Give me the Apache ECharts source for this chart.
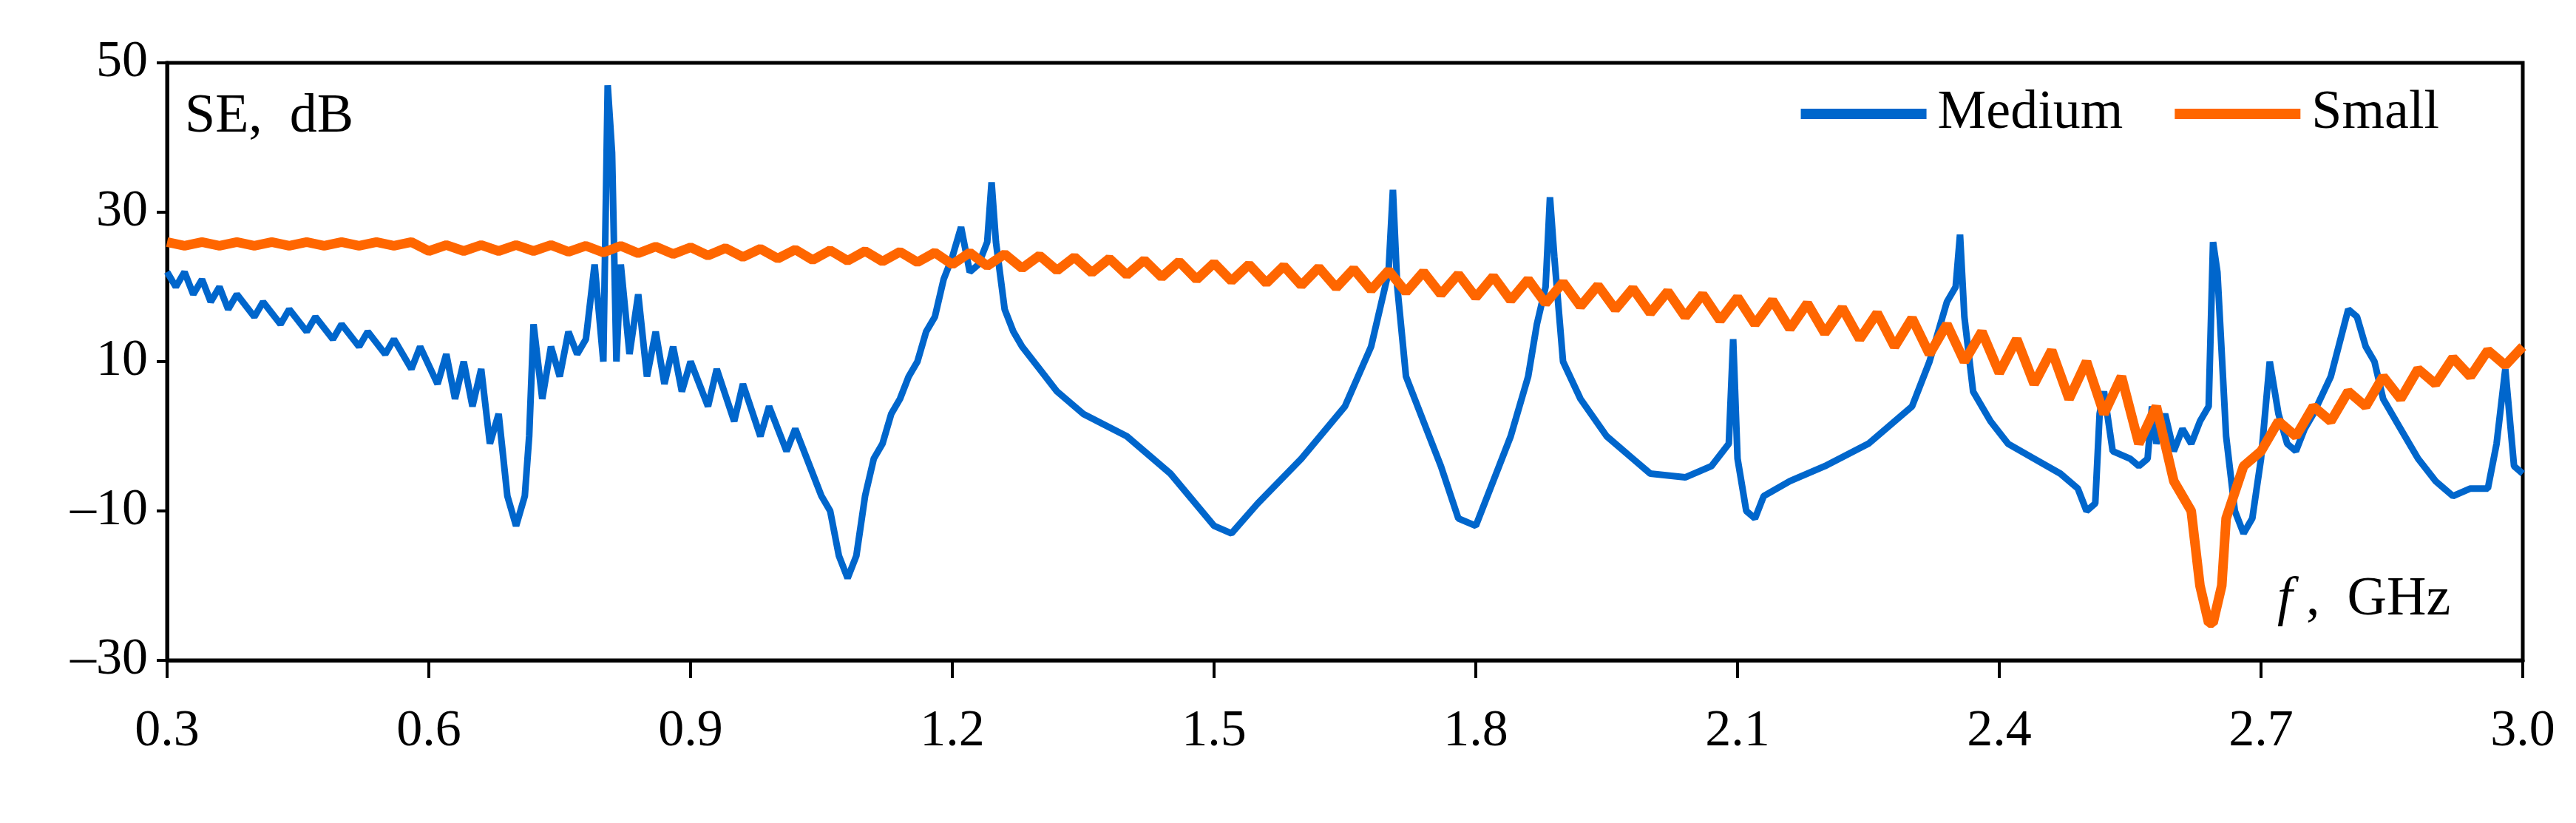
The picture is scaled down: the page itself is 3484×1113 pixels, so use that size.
<!DOCTYPE html>
<html>
<head>
<meta charset="utf-8">
<script src="https://cdn.jsdelivr.net/npm/echarts@6/dist/echarts.min.js"></script>
<style>html,body{margin:0;padding:0;background:#fff}#main{width:3484px;height:1113px}</style>
</head>
<body>
<div id="main"></div>
<script>
// y tick labels
var yTicks = [-30, -10, 10, 30, 50];
var xTicks = [0.3, 0.6, 0.9, 1.2, 1.5, 1.8, 2.1, 2.4, 2.7, 3.0];

// Medium: [f GHz, SE dB]
var medium = [
 [0.30,22],[0.31,20],[0.32,22],[0.33,19],[0.34,21],[0.35,18],[0.36,20],[0.37,17],[0.38,19],[0.40,16],
 [0.41,18],[0.43,15],[0.44,17],[0.46,14],[0.47,16],[0.49,13],[0.50,15],[0.52,12],[0.53,14],[0.55,11],
 [0.56,13],[0.58,9],[0.59,12],[0.61,7],[0.62,11],[0.63,5],[0.64,10],[0.65,4],[0.66,9],[0.67,-1],
 [0.68,3],[0.69,-8],[0.70,-12],[0.71,-8],[0.715,0],[0.72,15],[0.73,5],[0.74,12],[0.75,8],[0.76,14],
 [0.77,11],[0.78,13],[0.79,23],[0.80,10],[0.805,47],[0.81,38],[0.815,10],[0.82,23],[0.83,11],[0.84,19],
 [0.85,8],[0.86,14],[0.87,7],[0.88,12],[0.89,6],[0.90,10],[0.92,4],[0.93,9],[0.95,2],[0.96,7],
 [0.98,0],[0.99,4],[1.01,-2],[1.02,1],[1.04,-5],[1.05,-8],[1.06,-10],[1.07,-16],[1.08,-19],[1.09,-16],
 [1.10,-8],[1.11,-3],[1.12,-1],[1.13,3],[1.14,5],[1.15,8],[1.16,10],[1.17,14],[1.18,16],[1.19,21],
 [1.20,24],[1.21,28],[1.22,22],[1.23,23],[1.24,26],[1.245,34],[1.25,26],[1.26,17],[1.27,14],[1.28,12],
 [1.30,9],[1.32,6],[1.35,3],[1.40,0],[1.45,-5],[1.50,-12],[1.52,-13],[1.55,-9],[1.60,-3],[1.65,4],
 [1.68,12],[1.70,22],[1.705,33],[1.71,20],[1.72,8],[1.74,2],[1.76,-4],[1.78,-11],[1.80,-12],[1.82,-6],
 [1.84,0],[1.86,8],[1.87,15],[1.88,20],[1.885,32],[1.89,24],[1.90,10],[1.92,5],[1.95,0],[1.98,-3],
 [2.00,-5],[2.04,-5.5],[2.07,-4],[2.09,-1],[2.095,13],[2.10,-3],[2.11,-10],[2.12,-11],[2.13,-8],[2.16,-6],
 [2.20,-4],[2.25,-1],[2.30,4],[2.32,10],[2.34,18],[2.35,20],[2.355,27],[2.36,16],[2.37,6],[2.39,2],
 [2.41,-1],[2.44,-3],[2.47,-5],[2.49,-7],[2.50,-10],[2.51,-9],[2.515,3],[2.52,6],[2.53,-2],[2.55,-3],
 [2.56,-4],[2.57,-3],[2.575,4],[2.58,-1],[2.59,3],[2.60,-2],[2.61,1],[2.62,-1],[2.63,2],[2.64,4],
 [2.645,26],[2.65,22],[2.66,0],[2.67,-10],[2.68,-13],[2.69,-11],[2.70,-3],[2.71,10],[2.72,3],[2.73,-1],
 [2.74,-2],[2.75,1],[2.76,3],[2.78,8],[2.80,17],[2.81,16],[2.82,12],[2.83,10],[2.84,5],[2.86,1],
 [2.88,-3],[2.90,-6],[2.92,-8],[2.94,-7],[2.96,-7],[2.97,-1],[2.98,9],[2.99,-4],[3.00,-5]
];

// Small: SE values every 0.02 GHz from 0.30 (ripple high/low)
var smallF0 = 0.30, smallStep = 0.02;
var smallSE = [
 26,25.5,26,25.5,26,25.5,26,25.5,26,25.5,26,25.5,26,25.5,26,
 24.8,25.6,24.8,25.6,24.8,25.6,24.8,25.6,24.7,25.5,24.6,25.5,24.5,25.4,24.4,
 25.3,24.2,25.2,24,25.1,23.8,25,23.6,24.9,23.5,24.8,23.4,24.7,23.3,24.6,
 23,24.6,22.8,24.4,22.5,24.2,22.2,24,21.9,23.8,21.6,23.6,21.3,23.4,21,
 23.2,20.8,23,20.5,22.8,20.2,22.6,19.9,22.4,19.6,22.2,19.3,22,19,21.7,
 18.6,21.4,18.2,21,17.8,20.6,17.4,20.2,17,19.8,16.5,19.4,16,19,15.5,
 18.6,15,18.2,14.4,17.8,13.8,17.2,13,16.5,12,15.8,11,15,10,14,
 8.5,13,7,11.5,5,10,3,8,-1,4,-6,-10,-25,-11,-4,
 -2,2,0,4,2,6,4,8,5,9,7,10.5,8,11.5,9.5,12
];
// deep notch detail near 2.64 GHz
var smallNotch = [[2.63,-20],[2.645,-25],[2.655,-20]];

var small = smallSE.map(function (v, i) { return [+(smallF0 + i * smallStep).toFixed(2), v]; });
small = small.concat(smallNotch).sort(function (a, b) { return a[0] - b[0]; });

var font = 'Liberation Serif';
var myChart = echarts.init(document.getElementById('main'));
var option = {
  animation: false,
  grid: { left: 226, right: 72, top: 85, bottom: 220, show: true, borderColor: '#000', borderWidth: 5 },
  legend: {
    right: 180, top: 112, itemGap: 70, itemWidth: 170, itemHeight: 14,
    textStyle: { fontFamily: font, fontSize: 74, color: '#000', padding: [0, 0, 0, 10] },
    data: [{ name: 'Medium', icon: 'rect' }, { name: 'Small', icon: 'rect' }]
  },
  xAxis: {
    type: 'value', min: 0.3, max: 3.0, interval: 0.3,
    axisLine: { show: true, onZero: false, lineStyle: { color: '#000', width: 5 } },
    axisTick: { show: true, inside: false, length: 24, lineStyle: { color: '#000', width: 4 } },
    axisLabel: { margin: 62, fontFamily: font, fontSize: 70, color: '#000',
      formatter: function (v) { return v.toFixed(1); } },
    splitLine: { show: false }
  },
  yAxis: {
    type: 'value', min: -30, max: 50,
    axisLine: { show: true, lineStyle: { color: '#000', width: 5 } },
    axisTick: { show: true, length: 14, lineStyle: { color: '#000', width: 4 }, customValues: yTicks },
    axisLabel: { margin: 26, fontFamily: font, fontSize: 70, color: '#000', customValues: yTicks,
      formatter: function (v) { return v < 0 ? '\u2013' + Math.abs(v) : String(v); } },
    splitLine: { show: false }
  },
  graphic: [
    { type: 'text', left: 250, top: 122, style: { text: 'SE,  dB', fontFamily: font, fontSize: 74, fill: '#000' } },
    { type: 'text', left: 3080, top: 775, style: { text: '{i|f} ,  GHz', fontFamily: font, fontSize: 74, fill: '#000',
      rich: { i: { fontStyle: 'italic', fontFamily: font, fontSize: 74 } } } }
  ],
  series: [
    { name: 'Medium', type: 'line', showSymbol: false, data: medium,
      color: '#0066cc', lineStyle: { width: 9 }, z: 2 },
    { name: 'Small', type: 'line', showSymbol: false, data: small,
      color: '#ff6600', lineStyle: { width: 13 }, z: 3 }
  ]
};
myChart.setOption(option);
</script>
</body>
</html>
